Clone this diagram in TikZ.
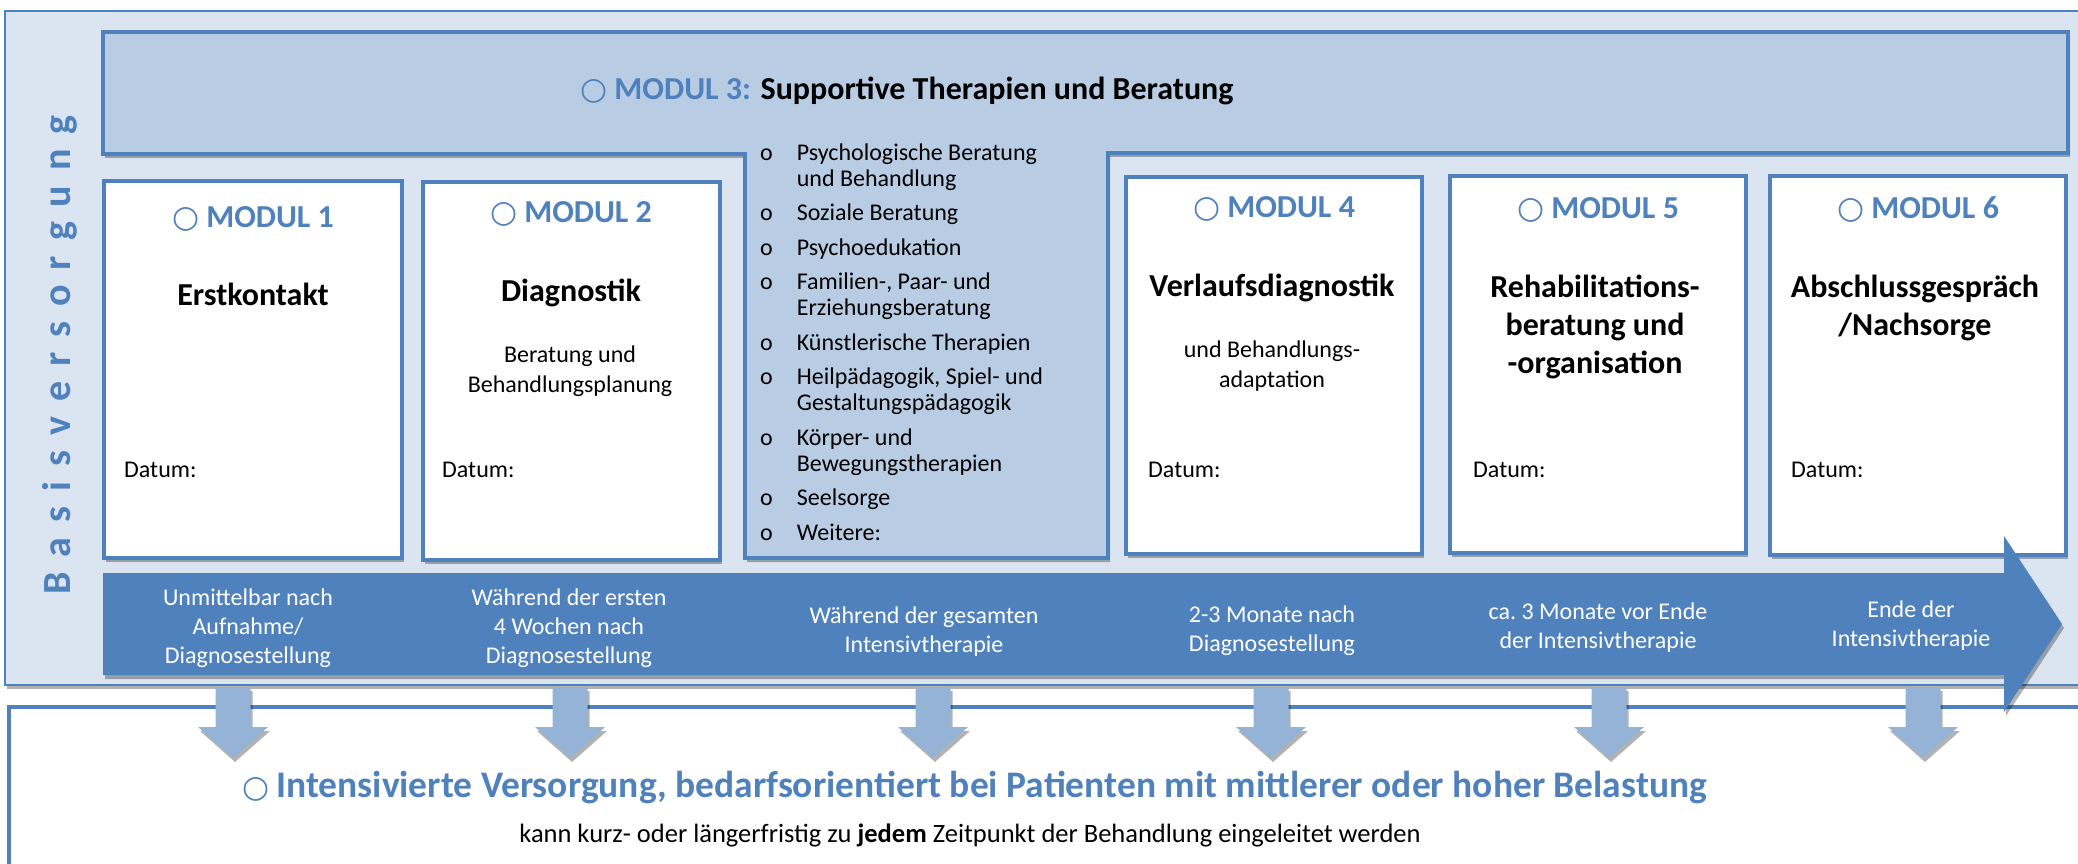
\documentclass[tikz,border=0pt]{standalone}
\usepackage{fontspec}
\setmainfont{Carlito}
\newfontfamily\dejavu{DejaVu Sans}
\usetikzlibrary{shadows}
\definecolor{bdr}{HTML}{4F81BD}
\definecolor{outerfill}{HTML}{DBE5F1}
\definecolor{bannerfill}{HTML}{B8CCE4}
\definecolor{darrow}{HTML}{95B3D7}
\newcommand\ocirc{{\dejavu\fontsize{31}{31}\selectfont ○}}
\newcommand\fs[2]{\fontsize{#1}{#2}\selectfont}
\newcommand\ls{\kern15pt}
\begin{document}
\begin{tikzpicture}[x=1pt,y=-1pt,
  myshadow/.style={drop shadow={shadow xshift=2pt,shadow yshift=-4pt,opacity=0.3,fill=black}},
  modbox/.style={draw=bdr,line width=3.5pt,fill=white,myshadow,inner sep=0pt},
  modtitle/.style={text=bdr,font=\fs{32}{38}\bfseries,anchor=base,inner sep=0pt},
  heading/.style={font=\fs{32}{38}\bfseries,align=center,anchor=base,inner sep=0pt},
  subtext/.style={font=\fs{24}{30},align=center,anchor=base,inner sep=0pt},
  datum/.style={font=\fs{24}{30},anchor=base west,inner sep=0pt},
  tltext/.style={font=\fs{24}{29},text=white,align=center,anchor=base,inner sep=0pt},
]
\useasboundingbox (0,0) rectangle (2078,864);
\fill[white] (0,0) rectangle (2078,864);

% outer Basisversorgung box
\filldraw[draw=bdr,fill=outerfill,line width=2.5pt,myshadow] (5,11) rectangle (2100,685);
% lower box
\filldraw[draw=bdr,fill=white,line width=4pt] (9,707) rectangle (2100,900);

% Modul 3 banner
\filldraw[draw=bdr,fill=bannerfill,line width=4pt,myshadow]
  (103,32) -- (2068,32) -- (2068,153) -- (1108,153) -- (1108,558)
  -- (745,558) -- (745,154) -- (103,154) -- cycle;

% module boxes
\node[modbox,minimum width=298pt,minimum height=377pt] (m1) at (253,369.5) {};
\node[modbox,minimum width=297pt,minimum height=378pt] (m2) at (571.5,371) {};
\node[modbox,minimum width=296pt,minimum height=377pt] (m4) at (1274,365.5) {};
\node[modbox,minimum width=296pt,minimum height=377pt] (m5) at (1598,364.5) {};
\node[modbox,minimum width=296pt,minimum height=379pt] (m6) at (1918,365.5) {};

% timeline arrow
\fill[bdr,myshadow] (103,573) -- (2004,573) -- (2004,536) -- (2062,624)
  -- (2004,712) -- (2004,675) -- (103,675) -- cycle;

% down arrows
\foreach \cx in {233,570,933,1271,1609,1923}
  \fill[darrow,myshadow] (\cx-17.5,687) -- (\cx+17.5,687) -- (\cx+17.5,727)
    -- (\cx+35,727) -- (\cx,758) -- (\cx-35,727) -- (\cx-17.5,727) -- cycle;

% Basisversorgung
\node[rotate=90,anchor=base,inner sep=0pt,text=bdr,font=\fs{40}{40}\bfseries] (basis) at (70,355)
  {B\ls a\ls s\ls i\ls s\ls v\ls e\ls r\ls s\ls o\ls r\ls g\ls u\ls n\ls g};

% Modul 3
\node[anchor=base west,inner sep=0pt,font=\fs{32}{38}\bfseries] (m3t) at (580,100)
  {\textcolor{bdr}{\ocirc\ MODUL 3:} Supportive Therapien und Beratung};
\node[anchor=north west,inner sep=0pt,font=\fs{24}{26}] (m3list) at (760,141.8)
  {\begin{tabular}{@{}l@{\hspace{24pt}}l@{}}
  o & Psychologische Beratung\\
    & und Behandlung\\[8.5pt]
  o & Soziale Beratung\\[8.5pt]
  o & Psychoedukation\\[8.5pt]
  o & Familien-, Paar- und\\
    & Erziehungsberatung\\[8.5pt]
  o & Künstlerische Therapien\\[8.5pt]
  o & Heilpädagogik, Spiel- und\\
    & Gestaltungspädagogik\\[8.5pt]
  o & Körper- und\\
    & Bewegungstherapien\\[8.5pt]
  o & Seelsorge\\[8.5pt]
  o & Weitere:
  \end{tabular}};

% Modul 1
\node[modtitle] (m1h) at (253,227) {\ocirc\ MODUL 1};
\node[heading] (m1t) at (253,305) {Erstkontakt};
\node[datum] (m1d) at (124,477) {Datum:};
% Modul 2
\node[modtitle] (m2h) at (571,222) {\ocirc\ MODUL 2};
\node[heading] (m2t) at (571,301) {Diagnostik};
\node[subtext] (m2s) at (570,392) {Beratung und\\Behandlungsplanung};
\node[datum] (m2d) at (442,477) {Datum:};
% Modul 4
\node[modtitle] (m4h) at (1274,217) {\ocirc\ MODUL 4};
\node[heading] (m4t) at (1272,296) {Verlaufsdiagnostik};
\node[subtext] (m4s) at (1272,387) {und Behandlungs-\\adaptation};
\node[datum] (m4d) at (1148,477) {Datum:};
% Modul 5
\node[modtitle] (m5h) at (1598,218) {\ocirc\ MODUL 5};
\node[heading] (m5t) at (1595,373) {Rehabilitations-\\beratung und\\-organisation};
\node[datum] (m5d) at (1473,477) {Datum:};
% Modul 6
\node[modtitle] (m6h) at (1918,218) {\ocirc\ MODUL 6};
\node[heading] (m6t) at (1915,335) {Abschlussgespräch\\/Nachsorge};
\node[datum] (m6d) at (1791,477) {Datum:};

% timeline texts
\node[tltext] (t1) at (248,663) {Unmittelbar nach\\Aufnahme/\\Diagnosestellung};
\node[tltext] (t2) at (569,663) {Während der ersten\\4 Wochen nach\\Diagnosestellung};
\node[tltext] (t3) at (924,652) {Während der gesamten\\Intensivtherapie};
\node[tltext] (t4) at (1272,651) {2-3 Monate nach\\Diagnosestellung};
\node[tltext] (t5) at (1598,648) {ca.\ 3 Monate vor Ende\\der Intensivtherapie};
\node[tltext] (t6) at (1911,646) {Ende der\\Intensivtherapie};

% lower texts
\node[anchor=base,inner sep=0pt,text=bdr,font=\fs{37.5}{44}\bfseries] (iv) at (975,797)
  {\ocirc\kern-2pt\ Intensivierte Versorgung, bedarfsorientiert bei Patienten mit mittlerer oder hoher Belastung};
\node[anchor=base,inner sep=0pt,font=\fs{26.5}{32}] (ivs) at (970,842)
  {kann kurz- oder längerfristig zu \textbf{jedem} Zeitpunkt der Behandlung eingeleitet werden};
\end{tikzpicture}
\end{document}
